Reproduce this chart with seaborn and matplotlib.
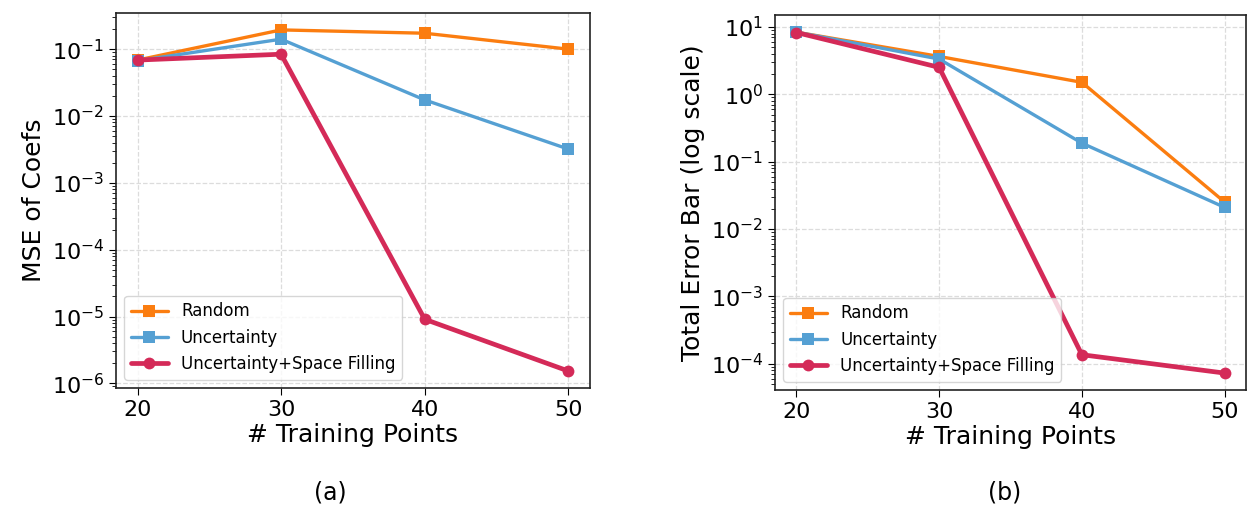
import matplotlib
matplotlib.use("Agg")
import matplotlib.pyplot as plt
import seaborn as sns
import pandas as pd

sns.set_style("ticks")
plt.rcParams['font.family'] = ['DejaVu Sans']
plt.rcParams.update({"text.color": "black", "axes.labelcolor": "black",
                     "xtick.color": "black", "ytick.color": "black"})

points = [20, 30, 40, 50]
methods = ["Random", "Uncertainty", "Uncertainty+Space Filling"]

mse_random = [0.0686, 0.194, 0.173, 0.100]
mse_uncert = [0.067, 0.141, 0.0174, 0.0032]
mse_usf = [0.0686, 0.084, 9.1e-6, 1.53e-6]

err_random = [8.4, 3.66, 1.51, 0.0252]
err_uncert = [8.4, 3.35, 0.189, 0.021]
err_usf = [8.3, 2.52, 1.36e-4, 7.26e-5]

colors = {"Random": "#fb7d10", "Uncertainty": "#55a0d3", "Uncertainty+Space Filling": "#d42a58"}
markers = {"Random": "s", "Uncertainty": "s", "Uncertainty+Space Filling": "o"}
widths = {"Random": 2.4, "Uncertainty": 2.4, "Uncertainty+Space Filling": 3.4}


def make_df(series):
    rows = []
    for m, vals in zip(methods, series):
        for x, v in zip(points, vals):
            rows.append({"points": x, "value": v, "method": m})
    return pd.DataFrame(rows)


fig = plt.figure(figsize=(12.47, 5.14), dpi=100)
ax1 = fig.add_axes([0.093, 0.245, 0.380, 0.730])
ax2 = fig.add_axes([0.6215, 0.241, 0.3777, 0.7296])

panels = [
    (ax1, make_df([mse_random, mse_uncert, mse_usf]), "MSE of Coefs", "(a)", 0.265),
    (ax2, make_df([err_random, err_uncert, err_usf]), "Total Error Bar (log scale)", "(b)", 0.806),
]

for ax, df, ylabel, tag, tx in panels:
    for m in methods:
        sub = df[df["method"] == m]
        sns.lineplot(data=sub, x="points", y="value", ax=ax, color=colors[m],
                     marker=markers[m], markersize=8.5, linewidth=widths[m],
                     markeredgewidth=0, label=m)
    ax.set_yscale("log")
    ax.set_xticks(points)
    ax.grid(True, which="major", linestyle="--", color="#dcdcdc", linewidth=0.9)
    ax.set_xlabel("# Training Points", fontsize=18, labelpad=2)
    ax.set_ylabel(ylabel, fontsize=18)
    ax.tick_params(axis="both", which="major", labelsize=16, direction="out", length=5,
                   color="black")
    ax.tick_params(axis="y", which="minor", length=3, color="black")
    for s in ax.spines.values():
        s.set_visible(True)
        s.set_color("#222222")
        s.set_linewidth(1.2)
    leg = ax.legend(loc="lower left", fontsize=12, frameon=True, fancybox=True,
                    handlelength=2.2)
    leg.get_frame().set_edgecolor("#cccccc")
    fig.text(tx, 0.041, tag, ha="center", va="center", fontsize=17)

fig.savefig("out.png", dpi=100)
